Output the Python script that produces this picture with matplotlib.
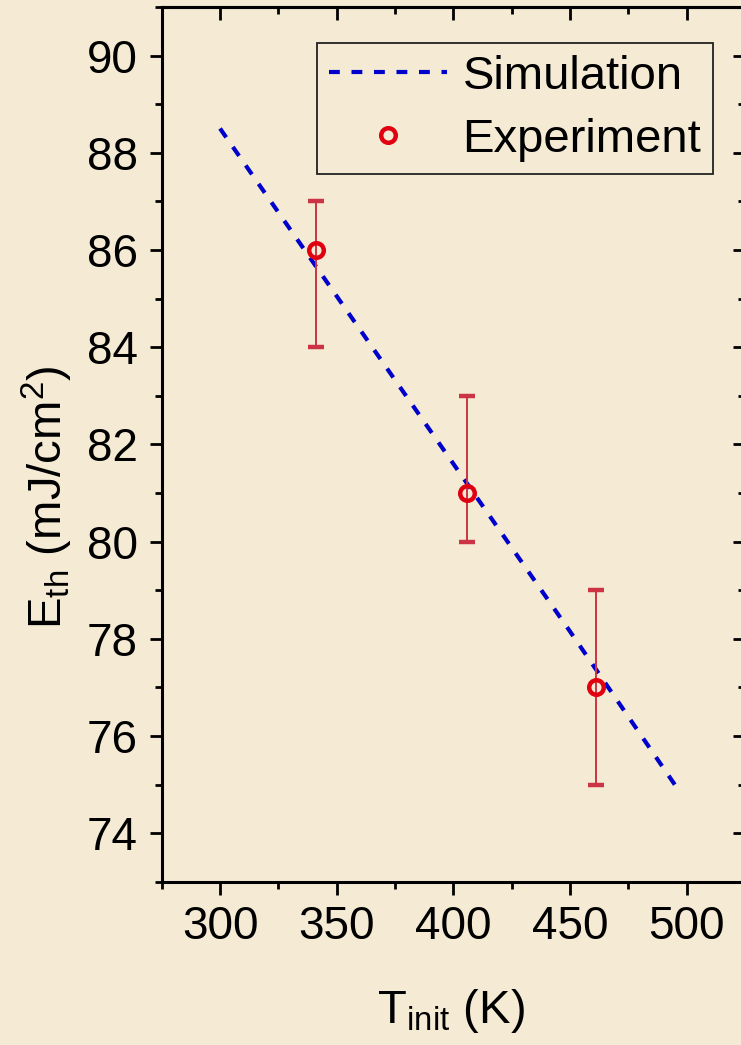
import matplotlib
matplotlib.use('Agg')
import matplotlib.pyplot as plt
from matplotlib.ticker import MultipleLocator
from matplotlib.lines import Line2D

# simulated threshold fluence vs initial temperature
sim_T = [300, 350, 400, 450, 497]
sim_E = [88.5, 85.05, 81.6, 78.15, 74.85]

# measured points with asymmetric error bars
exp_T = [341, 406, 461]
exp_E = [86, 81, 77]
exp_err_low = [2, 1, 2]
exp_err_high = [1, 2, 2]

bg = '#F5EBD5'
plt.rcParams['font.family'] = ['Liberation Sans', 'DejaVu Sans']
plt.rcParams['mathtext.default'] = 'regular'

W, H = 741, 1045
fig = plt.figure(figsize=(W / 100, H / 100), dpi=100, facecolor=bg)
left, right, bottom, top = 161.7, 745.0, 881.7, 7.0
ax = fig.add_axes([left / W, 1 - bottom / H, (right - left) / W, (bottom - top) / H])
ax.set_facecolor(bg)

line_kw = dict(color='#0000CC', lw=3.0, dashes=(2.6, 2.8))
mark_kw = dict(marker='o', ms=10.5, mfc='none', mec='#E00010', mew=3.2, ls='none')

ax.plot(sim_T, sim_E, **line_kw)
ax.errorbar(exp_T, exp_E, yerr=[exp_err_low, exp_err_high], ecolor='#CC3344',
            elinewidth=1.4, capsize=6, capthick=1.2, **mark_kw)

ax.set_xlim(275, 525)
ax.set_ylim(73, 91)
ax.xaxis.set_major_locator(MultipleLocator(50))
ax.xaxis.set_minor_locator(MultipleLocator(25))
ax.yaxis.set_major_locator(MultipleLocator(2))
ax.yaxis.set_minor_locator(MultipleLocator(1))

for s in ax.spines.values():
    s.set_linewidth(2.2)

ax.tick_params(which='major', direction='out', length=9, width=2, labelsize=33, pad=8)
ax.tick_params(which='minor', direction='out', length=5, width=2)

# top and right ticks point inward
top_ax = ax.secondary_xaxis('top')
right_ax = ax.secondary_yaxis('right')
for sec in (top_ax, right_ax):
    sec.tick_params(which='major', direction='in', length=9, width=2, labelsize=0)
    sec.tick_params(which='minor', direction='in', length=5, width=2)
    for s in sec.spines.values():
        s.set_linewidth(2.2)
top_ax.xaxis.set_major_locator(MultipleLocator(50))
top_ax.xaxis.set_minor_locator(MultipleLocator(25))
top_ax.set_xticklabels([])
right_ax.yaxis.set_major_locator(MultipleLocator(2))
right_ax.yaxis.set_minor_locator(MultipleLocator(1))
right_ax.set_yticklabels([])

handles = [Line2D([], [], **line_kw), Line2D([], [], **mark_kw)]
leg = ax.legend(handles, ['Simulation', 'Experiment'], loc='upper right',
                bbox_to_anchor=((713 - left) / (right - left), (bottom - 43) / (bottom - top)),
                borderaxespad=0, fontsize=34, frameon=True, fancybox=False, framealpha=1,
                facecolor=bg, edgecolor='#222222', handlelength=2.5, handletextpad=0.33,
                labelspacing=0.4, borderpad=0.25, numpoints=1)
leg.get_frame().set_linewidth(1.3)

fig.text(451 / W, 1 - 1023 / H, 'T$_{init}$ (K)', fontsize=34, ha='center', va='baseline')
fig.text(47 / W, 1 - 497 / H, 'E$_{th}$ (mJ/cm$^2$)', fontsize=34, ha='center', va='center',
         rotation=90)

fig.savefig('out.png', dpi=100, facecolor=bg)
